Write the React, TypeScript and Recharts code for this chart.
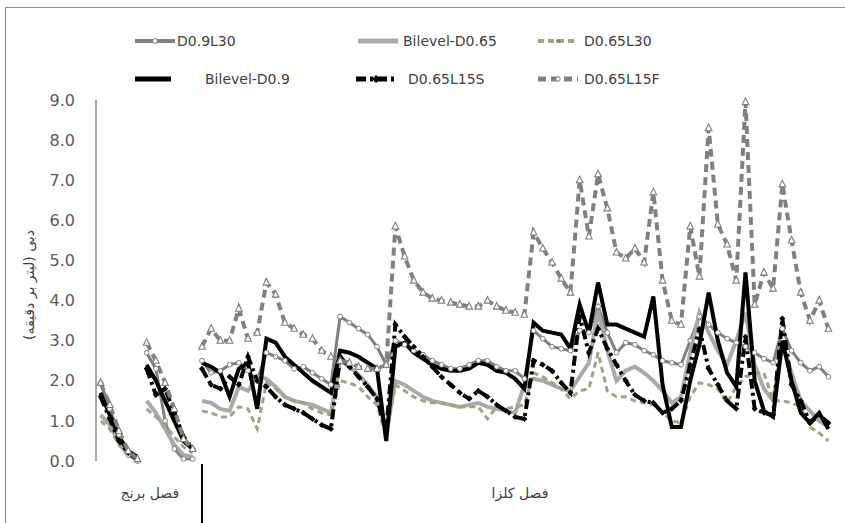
import React from "react";
import { LineChart, Line, XAxis, YAxis } from "recharts";

// category groups on the x axis (rice season runs are split by a break)
const riceRuns = [5, 6];
const canolaCount = 69;
const seasonLabels = ["فصل برنج", "فصل کلزا"];
const yTicks = [0, 1, 2, 3, 4, 5, 6, 7, 8, 9];
const yLabel = "دبی (لیتر بر دقیقه)";

// D0.9L30
const d09l30Rice = [1.95, 1.3, 0.65, 0.15, 0.0, 2.7, 2.3, 1.0, 0.3, 0.05, 0.05];
const d09l30Canola = [
  2.5, 2.2, 2.25, 2.4, 2.45, 2.25, 2.0, 2.7, 2.6, 2.5,
  2.3, 2.35, 2.2, 2.05, 1.9, 3.6, 3.45, 3.3, 3.15, 2.85,
  2.4, 3.0, 2.9, 2.75, 2.65, 2.5, 2.4, 2.3, 2.3, 2.4,
  2.5, 2.5, 2.35, 2.25, 2.25, 2.05, 3.25, 3.05, 2.85, 2.8,
  2.75, 3.25, 3.2, 3.85, 3.2, 2.7, 2.95, 2.9, 2.75, 2.65,
  2.5, 2.45, 2.4, 3.0, 3.6, 3.4, 3.2, 3.05, 2.95, 2.85,
  2.7, 2.55, 2.45, 3.3, 2.75, 2.45, 2.25, 2.35, 2.1,
];

// Bilevel-D0.65
const bi065Rice = [1.15, 0.9, 0.45, 0.15, 0.05, 1.5, 1.2, 0.8, 0.4, 0.15, 0.1];
const bi065Canola = [
  1.5, 1.45, 1.3, 1.25, 1.85, 1.75, 2.1, 2.05, 1.85, 1.6,
  1.5, 1.45, 1.4, 1.3, 1.2, 2.5, 2.35, 2.15, 1.9, 1.6,
  0.7, 2.0, 1.9, 1.75, 1.6, 1.5, 1.45, 1.4, 1.35, 1.4,
  1.45, 1.35, 1.3, 1.25, 1.2, 1.9, 2.05, 2.0, 1.9, 1.8,
  1.75, 2.1, 2.45, 3.75, 2.75, 2.0, 2.25, 2.35, 2.2, 2.0,
  1.75, 1.45, 1.6, 2.7, 3.7, 3.2, 2.75, 2.4, 3.0, 3.7,
  2.4, 1.8, 1.5, 2.9, 2.2, 1.5, 1.25, 1.0, 0.85,
];

// D0.65L30
const d065l30Rice = [1.0, 0.8, 0.4, 0.15, 0.05, 1.3, 1.1, 0.9, 0.6, 0.35, 0.2];
const d065l30Canola = [
  1.25, 1.2, 1.1, 1.1, 1.35, 1.3, 0.8, 1.95, 1.8, 1.6,
  1.5, 1.45, 1.3, 1.2, 1.15, 2.0, 1.95, 1.85, 1.6, 1.4,
  0.6, 1.9, 1.75, 1.6, 1.5, 1.45, 1.45, 1.4, 1.35, 1.35,
  1.35, 1.05, 1.35, 1.3, 1.35, 1.4, 2.2, 2.1, 1.95, 1.8,
  1.55, 1.75, 1.8, 2.7, 1.75, 1.6, 1.6, 1.5, 1.45, 1.4,
  1.2, 1.0, 0.95, 1.6, 1.95, 1.9, 1.8, 1.45, 1.85, 2.1,
  2.2, 2.2, 1.5, 1.5, 1.45, 1.35, 0.85, 0.7, 0.5,
];

// Bilevel-D0.9
const bi09Rice = [1.7, 1.15, 0.6, 0.25, 0.1, 2.4, 2.0, 1.5, 1.0, 0.5, 0.3];
const bi09Canola = [
  2.45, 2.35, 2.2, 1.6, 2.3, 2.45, 1.3, 3.05, 2.95, 2.6,
  2.4, 2.2, 2.0, 1.85, 1.7, 2.75, 2.7, 2.6, 2.45, 2.3,
  0.5, 2.85, 2.95, 2.7, 2.55, 2.4, 2.3, 2.25, 2.25, 2.3,
  2.45, 2.4, 2.25, 2.2, 2.05, 1.8, 3.45, 3.25, 3.2, 3.15,
  2.8, 3.9, 3.2, 4.45, 3.4, 3.4, 3.3, 3.2, 3.1, 4.1,
  1.9, 0.85, 0.85, 2.0, 2.9, 4.2, 3.0, 2.2, 1.85, 4.7,
  2.0, 1.25, 1.1, 3.0, 2.0, 1.2, 0.95, 1.2, 0.8,
];

// D0.65L15S
const d065l15sRice = [1.6, 1.05, 0.5, 0.2, 0.05, 2.3, 1.65, 1.8, 1.2, 0.6, 0.3];
const d065l15sCanola = [
  2.3, 1.9, 1.8, 2.1, 1.9, 2.6, 2.0, 1.85, 1.6, 1.4,
  1.3, 1.2, 1.05, 0.9, 0.8, 2.6, 2.35, 2.1, 1.85, 1.55,
  0.75, 3.4, 3.1, 2.85, 2.6, 2.35, 2.1, 1.9, 1.7, 1.55,
  1.75, 1.6, 1.4, 1.25, 1.1, 1.05, 2.5, 2.4, 2.25, 1.95,
  1.7, 3.6, 2.7, 3.3, 2.8, 2.4, 2.0, 1.65, 1.5, 1.45,
  1.2, 1.3, 1.5, 2.4, 3.3, 2.3, 1.9, 1.5, 1.3, 3.1,
  1.3, 1.2, 1.15, 3.55, 1.9, 1.5, 0.95, 1.15, 0.95,
];

// D0.65L15F
const d065l15fRice = [1.95, 1.4, 0.75, 0.25, 0.05, 2.95, 2.5, 1.95, 1.3, 0.55, 0.3];
const d065l15fCanola = [
  2.85, 3.3, 3.0, 3.0, 3.8, 3.05, 3.2, 4.45, 4.15, 3.45,
  3.3, 3.15, 3.05, 2.75, 2.6, 2.5, 2.45, 2.35, 2.3, 2.3,
  2.4, 5.85, 5.1, 4.5, 4.2, 4.05, 4.0, 3.95, 3.9, 3.85,
  3.85, 4.0, 3.85, 3.75, 3.7, 3.65, 5.7, 5.3, 4.95, 4.55,
  4.2, 7.0, 5.6, 7.15, 6.3, 5.2, 5.05, 5.3, 4.95, 6.7,
  4.5, 3.5, 3.4, 5.85, 4.6, 8.3, 5.9, 5.4, 4.5, 8.95,
  3.9, 4.7, 4.3, 6.9, 5.5, 4.2, 3.5, 4.0, 3.3,
];

const FONT = "'DejaVu Sans', sans-serif";

const circleDot = (props: any) => {
  const { cx, cy, index, value } = props;
  if (cx == null || cy == null || value == null) return <g key={index} />;
  return <circle key={index} cx={cx} cy={cy} r={2.4} fill="#fff" stroke="#7f7f7f" strokeWidth={1} />;
};

const triangleDot = (props: any) => {
  const { cx, cy, index, value } = props;
  if (cx == null || cy == null || value == null) return <g key={index} />;
  return (
    <polygon
      key={index}
      points={`${cx},${cy - 4} ${cx - 3.3},${cy + 2.6} ${cx + 3.3},${cy + 2.6}`}
      fill="#fff"
      stroke="#7f7f7f"
      strokeWidth={1.1}
    />
  );
};

const diamondDot = (props: any) => {
  const { cx, cy, index, value } = props;
  if (cx == null || cy == null || value == null) return <g key={index} />;
  return <polygon key={index} points={`${cx},${cy - 3} ${cx + 3},${cy} ${cx},${cy + 3} ${cx - 3},${cy}`} fill="#000" />;
};

const series = [
  { key: "a", name: "D0.9L30", rice: d09l30Rice, canola: d09l30Canola, stroke: "#7f7f7f", width: 3, dash: undefined, dot: circleDot },
  { key: "b", name: "Bilevel-D0.65", rice: bi065Rice, canola: bi065Canola, stroke: "#a9a9a9", width: 4, dash: undefined, dot: false },
  { key: "c", name: "D0.65L30", rice: d065l30Rice, canola: d065l30Canola, stroke: "#a3a283", width: 3, dash: "6 4", dot: false },
  { key: "d", name: "Bilevel-D0.9", rice: bi09Rice, canola: bi09Canola, stroke: "#000000", width: 4, dash: undefined, dot: false },
  { key: "e", name: "D0.65L15S", rice: d065l15sRice, canola: d065l15sCanola, stroke: "#000000", width: 4, dash: "10 4 3 4", dot: diamondDot },
  { key: "f", name: "D0.65L15F", rice: d065l15fRice, canola: d065l15fCanola, stroke: "#808080", width: 4, dash: "8 5", dot: triangleDot },
];

// index ranges of the separate line runs
const runs: [number, number][] = [];
let start = 0;
[...riceRuns, canolaCount].forEach((n) => {
  runs.push([start, start + n]);
  start += n;
});
const total = start;

const data = Array.from({ length: total }, (_, i) => {
  const row: any = { i };
  series.forEach((s) => {
    const all = [...s.rice, ...s.canola];
    runs.forEach(([a, b], k) => {
      row[`${s.key}${k}`] = i >= a && i < b ? all[i] : null;
    });
  });
  return row;
});

const legendItems = [
  { s: 0, x: 135, y: 41, tx: 177 },
  { s: 1, x: 358, y: 41, tx: 403 },
  { s: 2, x: 538, y: 41, tx: 584 },
  { s: 3, x: 135, y: 79, tx: 205 },
  { s: 4, x: 356, y: 79, tx: 408 },
  { s: 5, x: 538, y: 79, tx: 584 },
];

const LegendSample = ({ s, x, y }: { s: number; x: number; y: number }) => {
  const it = series[s];
  const len = s === 3 ? 36 : 40;
  const mid = x + len / 2;
  return (
    <g>
      <line x1={x} y1={y} x2={x + len} y2={y} stroke={it.stroke} strokeWidth={it.width + 1} strokeDasharray={it.dash} />
      {s === 0 && <circle cx={mid} cy={y} r={2.4} fill="#fff" stroke="#7f7f7f" />}
      {s === 2 && <circle cx={mid} cy={y} r={2} fill="#8c8a4a" />}
      {s === 4 && <polygon points={`${mid},${y - 4} ${mid + 4},${y} ${mid},${y + 4} ${mid - 4},${y}`} fill="#000" />}
      {s === 5 && <circle cx={mid} cy={y} r={2.2} fill="#fff" stroke="#808080" />}
    </g>
  );
};

export default function App() {
  return (
    <div style={{ position: "absolute", left: 0, top: 0, width: 845, height: 523, background: "#fff", overflow: "hidden" }}>
      <LineChart
        width={845}
        height={523}
        data={data}
        margin={{ top: 100, right: 12, bottom: 62, left: 36 }}
      >
        <XAxis
          dataKey="i"
          type="category"
          height={0}
          tick={false}
          tickLine={false}
          axisLine={{ stroke: "#d9d9d9", strokeWidth: 1.5 }}
          padding={{ left: 4.6, right: 4.6 }}
        />
        <YAxis
          width={60}
          domain={[0, 9]}
          ticks={yTicks}
          interval={0}
          tickLine={false}
          tickSize={6}
          tickMargin={15}
          axisLine={{ stroke: "#8c8c8c", strokeWidth: 1.5 }}
          tickFormatter={(v: number) => v.toFixed(1)}
          tick={{ fill: "#595959", fontSize: 16, fontFamily: FONT }}
        />
        {series.map((s) =>
          runs.map((_, k) => (
            <Line
              key={`${s.key}${k}`}
              dataKey={`${s.key}${k}`}
              name={s.name}
              type="linear"
              stroke={s.stroke}
              strokeWidth={s.width}
              strokeDasharray={s.dash}
              dot={s.dot as any}
              activeDot={false}
              connectNulls={false}
              legendType="none"
              isAnimationActive={false}
            />
          ))
        )}
      </LineChart>
      <svg width={845} height={523} style={{ position: "absolute", left: 0, top: 0, pointerEvents: "none" }}>
        <rect x={5.5} y={7.5} width={860} height={540} fill="none" stroke="#8c8c8c" strokeWidth={1} />
        {legendItems.map((l) => (
          <g key={l.s}>
            <LegendSample s={l.s} x={l.x} y={l.y} />
            <text x={l.tx} y={l.y + 5} fontSize={14} fontFamily={FONT} fill="#404040">
              {series[l.s].name}
            </text>
          </g>
        ))}
        <text
          transform="translate(34,285) rotate(-90)"
          textAnchor="middle"
          fontSize={14}
          fontFamily={FONT}
          fill="#404040"
        >
          {yLabel}
        </text>
        <line x1={202} y1={464} x2={202} y2={523} stroke="#000" strokeWidth={2} />
        <text x={150} y={498} textAnchor="middle" fontSize={14} fontFamily={FONT} fill="#404040">
          {seasonLabels[0]}
        </text>
        <text x={520} y={498} textAnchor="middle" fontSize={14} fontFamily={FONT} fill="#404040">
          {seasonLabels[1]}
        </text>
      </svg>
    </div>
  );
}
